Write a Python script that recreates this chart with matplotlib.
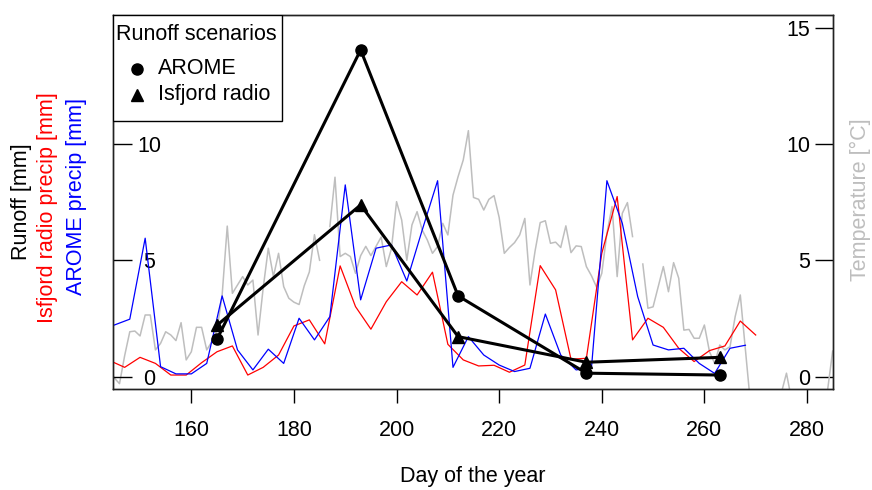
import numpy as np
import matplotlib
matplotlib.use("Agg")
import matplotlib.pyplot as plt
from matplotlib.patches import Rectangle

plt.rcParams['font.family'] = ['Liberation Sans', 'DejaVu Sans']

# --- runoff scenarios (mm) ---
runoff_days = [165, 193, 212, 237, 263]
runoff_arome = [1.61, 14.04, 3.47, 0.15, 0.07]
runoff_isfjord = [2.21, 7.38, 1.72, 0.62, 0.83]

# --- 3-day precipitation (mm) ---
arome_days = list(range(145, 269, 3))
arome_precip = [2.22, 2.47, 5.95, 0.43, 0.12, 0.12, 0.57, 3.47, 1.15, 0.29,
                1.18, 0.57, 2.51, 1.58, 2.58, 8.24, 3.30, 5.52, 5.66, 4.11,
                6.30, 8.42, 0.40, 1.72, 0.93, 0.50, 0.22, 0.36, 2.69, 0.93,
                0.29, 0.40, 8.42, 6.59, 3.44, 1.36, 1.15, 1.22, 0.57, 0.14,
                1.22, 1.35]

isfjord_days = list(range(144, 271, 3))
isfjord_precip = [0.70, 0.40, 0.83, 0.57, 0.07, 0.07, 0.60, 1.07, 1.32, 0.07,
                  0.40, 0.93, 2.18, 2.44, 1.41, 4.76, 3.01, 2.04, 3.22, 4.08,
                  3.51, 4.49, 1.39, 0.72, 0.46, 0.49, 0.19, 0.50, 4.77, 3.73,
                  0.75, 0.79, 5.30, 7.74, 1.58, 2.51, 2.12, 1.22, 0.65, 1.12,
                  1.32, 2.39, 1.79]

# --- daily air temperature (degC), nan = missing ---
temp_days = list(range(144, 286))
temp = [0.3, -0.06, -0.3, 0.9, 1.93, 1.96, 1.75, 2.65, 2.65, 1.15,
        1.43, 1.93, 1.79, 1.55, 2.32, 0.72, 1.07, 2.12, 2.12, 1.15,
        1.5, 2.0, 3.5, 6.47, 3.58, 3.94, 4.3, 3.94, 4.15, 1.79,
        3.8, 5.52, 4.3, 5.3, 3.87, 3.37, 3.2, 3.1, 3.9, 4.5,
        6.1, 5.0, np.nan, 6.45, 8.57, 5.16, 5.3, 5.16, 4.44, 5.2,
        5.6, 5.2, 5.6, 6.0, 4.73, 5.5, 7.52, 6.73, 5.0, 6.52,
        7.09, 6.3, 5.87, 5.3, 5.59, 6.59, 6.09, 7.8, 8.6, 9.31,
        10.57, 7.7, 7.62, 7.16, 7.62, 7.78, 6.84, 5.3, 5.55, 5.76,
        6.09, 6.8, 3.94, 5.4, 6.62, 6.7, 5.73, 5.78, 5.55, 6.48,
        5.33, 5.62, 5.59, 4.73, 4.33, 3.84, 4.44, 6.16, 7.31, 4.3,
        7.02, 7.48, 6.02, np.nan, 4.84, 2.94, 3.0, 3.87, 4.73, 3.65,
        4.9, 4.23, 2.0, 2.03, 1.65, 1.65, 2.22, 1.07, 0.57, 1.36,
        1.15, 1.29, 2.58, 3.51, 1.15, -1.2, -2.0, -2.5, -2.0, -2.2,
        -1.5, -0.7, 0.15, -1.0, -1.5, -2.0, -2.2, -1.8, -1.5, -1.2,
        -0.6, 1.1]

W, H = 872, 490
fig = plt.figure(figsize=(W / 100, H / 100), dpi=100)
x0, x1, ytop, ybot = 113, 833, 15, 389
ax = fig.add_axes([x0 / W, (H - ybot) / H, (x1 - x0) / W, (ybot - ytop) / H])
ax2 = ax.twinx()

fs = 15.5
xlim = (144.73, 285.07)
ylim = (-0.53, 15.54)

# temperature underneath (right axis)
ax.plot(temp_days, temp, color='#BEBEBE', lw=1.1)
ax.set_xlim(xlim)
ax.set_ylim(ylim)
ax.yaxis.tick_right()
ax.set_yticks([0, 5, 10, 15])
ax.tick_params(axis='y', direction='in', length=13, width=1, pad=-16.5, labelsize=fs)
for lbl in ax.get_yticklabels():
    lbl.set_ha('right')
ax.set_xticks([160, 180, 200, 220, 240, 260, 280])
ax.tick_params(axis='x', direction='out', length=10, width=1, pad=12, labelsize=fs)

# precipitation and runoff (left axis)
ax2.plot(isfjord_days, isfjord_precip, color='red', lw=0.9)
ax2.plot(arome_days, arome_precip, color='blue', lw=0.9)
ax2.plot(runoff_days, runoff_arome, color='black', lw=2.2, marker='o', ms=8)
ax2.plot(runoff_days, runoff_isfjord, color='black', lw=2.2, marker='^', ms=9)
ax2.set_xlim(xlim)
ax2.set_ylim(ylim)
ax2.yaxis.tick_left()
ax2.set_yticks([0, 5, 10])
ax2.tick_params(axis='y', direction='in', length=13.5, width=1, pad=-26, labelsize=fs)
for lbl in ax2.get_yticklabels():
    lbl.set_ha('center')

for a in (ax, ax2):
    for s in a.spines.values():
        s.set_linewidth(1.0)
        s.set_color('#222222')

# legend box, drawn in axes fraction like base R legend()
aw, ah = x1 - x0, ybot - ytop
tr = ax2.transAxes
ax2.add_patch(Rectangle((0, 1 - 106 / ah), 169 / aw, 106 / ah, transform=tr,
                        facecolor='white', edgecolor='black', lw=1.0, zorder=5))
ax2.text(3 / aw, 1 - 20 / ah, 'Runoff scenarios', transform=tr, fontsize=fs,
         ha='left', va='center', zorder=6)
ax2.plot([24 / aw], [1 - 54 / ah], transform=tr, color='black', marker='o', ms=8,
         ls='none', zorder=6, clip_on=False)
ax2.plot([24 / aw], [1 - 80 / ah], transform=tr, color='black', marker='^', ms=9,
         ls='none', zorder=6, clip_on=False)
ax2.text(45 / aw, 1 - 54 / ah, 'AROME', transform=tr, fontsize=fs, ha='left',
         va='center', zorder=6)
ax2.text(45 / aw, 1 - 80 / ah, 'Isfjord radio', transform=tr, fontsize=fs, ha='left',
         va='center', zorder=6)

# axis titles
fig.text(22 / W, 1 - 202 / H, 'Runoff [mm]', rotation=90, ha='center', va='center', fontsize=fs)
fig.text(47 / W, 1 - 208 / H, 'Isfjord radio precip [mm]', rotation=90, ha='center', va='center',
         fontsize=fs, color='red')
fig.text(76 / W, 1 - 196 / H, 'AROME precip [mm]', rotation=90, ha='center', va='center',
         fontsize=fs, color='blue')
fig.text(860 / W, 1 - 200 / H, 'Temperature [\u00b0C]', rotation=90, ha='center', va='center',
         fontsize=fs, color='#BEBEBE')
fig.text(473 / W, 1 - 476 / H, 'Day of the year', ha='center', va='center', fontsize=fs)

fig.savefig('out.png', dpi=100)
